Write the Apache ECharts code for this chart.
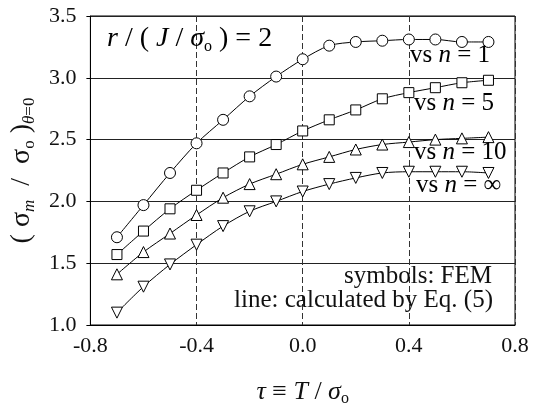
<!DOCTYPE html>
<html>
<head>
<meta charset="utf-8">
<title>Stress ratio vs tau</title>
<script src="https://cdn.jsdelivr.net/npm/echarts@6/dist/echarts.min.js"></script>
<style>
  html, body { margin: 0; padding: 0; background: #fff; }
  #chart { width: 534px; height: 412px; }
</style>
</head>
<body>
<div id="chart"></div>
<script>
// tau = T / sigma_o sample positions
const tau = [-0.7, -0.6, -0.5, -0.4, -0.3, -0.2, -0.1, 0.0, 0.1, 0.2, 0.3, 0.4, 0.5, 0.6, 0.7];

// (sigma_m / sigma_o) at theta = 0 for each hardening exponent
const n1   = [1.71, 1.97, 2.23, 2.47, 2.66, 2.85, 3.01, 3.15, 3.26, 3.29, 3.30, 3.31, 3.31, 3.29, 3.29];
const n5   = [1.57, 1.76, 1.94, 2.09, 2.23, 2.36, 2.46, 2.57, 2.66, 2.74, 2.83, 2.88, 2.92, 2.96, 2.98];
const n10  = [1.41, 1.59, 1.74, 1.89, 2.03, 2.14, 2.22, 2.30, 2.36, 2.42, 2.46, 2.48, 2.50, 2.51, 2.52];
const nInf = [1.10, 1.31, 1.49, 1.65, 1.80, 1.92, 2.00, 2.08, 2.14, 2.19, 2.23, 2.24, 2.24, 2.24, 2.23];

// axis ranges and tick steps
const xTicks = { min: -0.8, max: 0.8, step: 0.4 };
const yTicks = { min: 1.0, max: 3.5, step: 0.5 };

const FONT = '"Liberation Serif", "DejaVu Serif", serif';
const INK = '#111';

function pairs(ys) { return tau.map((t, i) => [t, ys[i]]); }

// rich-text fragments: regular, italic, subscript
function richSet(size, subSize, lh) {
  return {
    r:  { fontFamily: FONT, fontSize: size, color: INK, lineHeight: lh },
    i:  { fontFamily: FONT, fontSize: size, color: INK, lineHeight: lh, fontStyle: 'italic' },
    s:  { fontFamily: FONT, fontSize: subSize, color: INK, lineHeight: subSize, verticalAlign: 'bottom' },
    si: { fontFamily: FONT, fontSize: subSize, color: INK, lineHeight: subSize, verticalAlign: 'bottom', fontStyle: 'italic' }
  };
}

function seriesOf(name, ys, symbol, size, rotate) {
  return {
    name: name,
    type: 'line',
    data: pairs(ys),
    smooth: 0.3,
    symbol: symbol,
    symbolSize: size,
    symbolRotate: rotate || 0,
    showAllSymbol: true,
    lineStyle: { color: '#000', width: 1 },
    itemStyle: { color: '#fff', borderColor: '#000', borderWidth: 1 },
    emphasis: { disabled: true },
    z: 3
  };
}

const chart = echarts.init(document.getElementById('chart'), null, { renderer: 'canvas' });

const option = {
  animation: false,
  backgroundColor: '#fff',
  grid: {
    left: 90, right: 19, top: 16, bottom: 83,
    show: true, borderColor: '#000', borderWidth: 1, backgroundColor: 'transparent'
  },
  xAxis: {
    type: 'value',
    min: xTicks.min, max: xTicks.max, interval: xTicks.step,
    axisLine: { onZero: false, lineStyle: { color: '#000', width: 1 } },
    axisTick: { show: false },
    splitLine: { show: true, lineStyle: { color: '#333', width: 1, type: [6, 3] } },
    axisLabel: {
      fontFamily: FONT, fontSize: 22, color: INK, margin: 10,
      formatter: v => v.toFixed(1)
    },
    name: '{i|τ}{r| ≡ }{i|T}{r| / }{i|σ}{s|o}',
    nameLocation: 'middle',
    nameGap: 52,
    nameTextStyle: { rich: richSet(26, 16, 30) }
  },
  yAxis: {
    type: 'value',
    min: yTicks.min, max: yTicks.max, interval: yTicks.step,
    axisLine: { show: true, onZero: false, lineStyle: { color: '#000', width: 1 } },
    axisTick: { show: true, length: 4, lineStyle: { color: '#000' } },
    splitLine: { show: true, lineStyle: { color: '#222', width: 1 } },
    axisLabel: {
      fontFamily: FONT, fontSize: 22, color: INK, margin: 14,
      formatter: v => v.toFixed(1)
    },
    name: '{r|( σ}{si|m}{r|  /  σ}{s|o}{r| )}{si|θ}{s|=0}',
    nameLocation: 'middle',
    nameGap: 50,
    nameTextStyle: { rich: richSet(28, 17, 32) }
  },
  graphic: [
    {
      type: 'text', left: 107, top: 25, z: 10,
      style: {
        text: '{i|r}{r| / ( }{i|J}{r| / }{i|σ}{s|o}{r| ) = 2}',
        rich: richSet(28, 16, 32)
      }
    },
    { type: 'text', left: 410, top: 43, z: 10,
      style: { text: '{r|vs }{i|n}{r| = 1}', rich: richSet(25, 15, 28) } },
    { type: 'text', left: 414, top: 91, z: 10,
      style: { text: '{r|vs }{i|n}{r| = 5}', rich: richSet(25, 15, 28) } },
    { type: 'text', left: 414, top: 140, z: 10,
      style: { text: '{r|vs }{i|n}{r| = 10}', rich: richSet(25, 15, 28) } },
    { type: 'text', left: 416, top: 173, z: 10,
      style: { text: '{r|vs }{i|n}{r| = ∞}', rich: richSet(25, 15, 28) } },
    {
      type: 'text', right: 42, top: 264, z: 10,
      style: { text: 'symbols: FEM', fontFamily: FONT, fontSize: 25, fill: INK, textAlign: 'right' }
    },
    {
      type: 'text', right: 41, top: 288, z: 10,
      style: { text: 'line: calculated by Eq. (5)', fontFamily: FONT, fontSize: 25, fill: INK, textAlign: 'right' }
    }
  ],
  series: [
    seriesOf('n=1', n1, 'circle', 11),
    seriesOf('n=5', n5, 'rect', 10),
    seriesOf('n=10', n10, 'triangle', 11),
    seriesOf('n=inf', nInf, 'triangle', 11, 180)
  ]
};

chart.setOption(option);
</script>
</body>
</html>
